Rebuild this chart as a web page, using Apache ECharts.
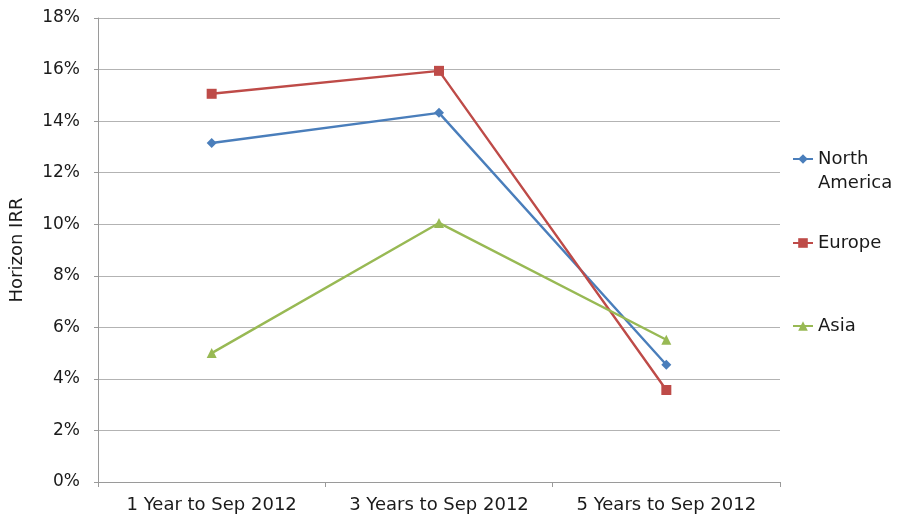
<!DOCTYPE html>
<html>
<head>
<meta charset="utf-8">
<script src="https://cdn.jsdelivr.net/npm/echarts@6/dist/echarts.min.js"></script>
<style>
  html, body { margin: 0; padding: 0; background: #fff; }
  #chart { width: 914px; height: 520px; }
</style>
</head>
<body>
<div id="chart"></div>
<script>
// Horizon IRR by region over three horizons
const categories = ['1 Year to Sep 2012', '3 Years to Sep 2012', '5 Years to Sep 2012'];
const northAmerica = [13.15, 14.32, 4.55];
const europe = [15.06, 15.95, 3.57];
const asia = [5.0, 10.05, 5.52];
const yTicks = [0, 2, 4, 6, 8, 10, 12, 14, 16, 18];

const FONT = 'DejaVu Sans';
const TEXT = '#1a1a1a';
const AXIS = '#9a9a9a';

const chart = echarts.init(document.getElementById('chart'), null, { renderer: 'canvas' });

function lineSeries(name, data, color, symbol, size) {
  return {
    name: name,
    type: 'line',
    data: data,
    symbol: symbol,
    symbolSize: size,
    showAllSymbol: true,
    lineStyle: { color: color, width: 2.4 },
    itemStyle: { color: color },
    emphasis: { disabled: true },
    animation: false
  };
}

function legendFor(name, top, extra) {
  return Object.assign({
    data: [name],
    orient: 'vertical',
    left: 787,
    top: top,
    itemWidth: 20,
    itemHeight: 12,
    itemGap: 4,
    selectedMode: false,
    textStyle: { fontFamily: FONT, fontSize: 18, color: TEXT, lineHeight: 24 }
  }, extra || {});
}

chart.setOption({
  animation: false,
  grid: { left: 98, right: 134, top: 18, bottom: 38, containLabel: false },
  legend: [
    // blank first line keeps the marker level with "North"
    legendFor('North America', 118, { formatter: () => ' \nNorth\nAmerica' }),
    legendFor('Europe', 226),
    legendFor('Asia', 309)
  ],
  xAxis: {
    type: 'category',
    data: categories,
    boundaryGap: true,
    axisLine: { show: true, lineStyle: { color: AXIS, width: 1 } },
    axisTick: { show: true, alignWithLabel: false, interval: 0, length: 5, lineStyle: { color: AXIS } },
    axisLabel: { fontFamily: FONT, fontSize: 18, color: TEXT, margin: 14, interval: 0, hideOverlap: false },
    splitLine: { show: false }
  },
  yAxis: {
    type: 'value',
    min: 0,
    max: 18,
    interval: 2,
    name: 'Horizon IRR',
    nameLocation: 'middle',
    nameGap: 72,
    nameTextStyle: { fontFamily: FONT, fontSize: 18, color: TEXT },
    axisLine: { show: true, lineStyle: { color: AXIS, width: 1 } },
    axisTick: { show: true, length: 4, lineStyle: { color: AXIS } },
    axisLabel: {
      fontFamily: FONT, fontSize: 17, color: TEXT, margin: 18,
      formatter: v => (yTicks.indexOf(v) >= 0 ? v + '%' : '')
    },
    splitLine: { show: true, lineStyle: { color: '#b3b3b3', width: 1 } }
  },
  series: [
    lineSeries('North America', northAmerica, '#4a7ebb', 'diamond', 10),
    lineSeries('Europe', europe, '#be4b48', 'rect', 10),
    lineSeries('Asia', asia, '#98b954', 'triangle', 10)
  ]
});
</script>
</body>
</html>
